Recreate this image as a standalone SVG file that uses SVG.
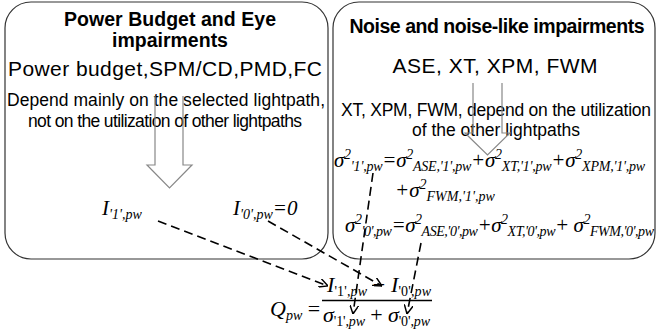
<svg xmlns="http://www.w3.org/2000/svg" width="657" height="334" viewBox="0 0 657 334">
<style>
.box{fill:none;stroke:#333;stroke-width:1.2}
.big{fill:none;stroke:#888;stroke-width:1.2}
.h{font-family:"Liberation Sans",Arial,sans-serif;font-weight:bold;font-size:19.5px;fill:#000;text-anchor:middle}
.l{font-family:"Liberation Sans",Arial,sans-serif;font-size:21px;fill:#000;text-anchor:middle}
.s{font-family:"Liberation Sans",Arial,sans-serif;font-size:17.5px;fill:#000;text-anchor:middle}
.m{font-family:"Liberation Serif","Times New Roman",serif;font-style:italic;font-size:21px;fill:#000}
.q{font-size:22px}
.r{font-style:normal}
.sb{font-size:14px}
.dash{fill:none;stroke:#000;stroke-width:1.6;stroke-dasharray:9,5}
</style>
<defs>
<marker id="ah" viewBox="0 0 10 10" refX="10" refY="5" markerWidth="9" markerHeight="9" markerUnits="userSpaceOnUse" orient="auto">
<path d="M0,0 L10,5 L0,10" fill="none" stroke="#000" stroke-width="1.6"/>
</marker>
</defs>
<g id="left-box">
<rect class="box" x="5" y="2" width="323" height="257" rx="26"/>
<text class="h" x="170" y="26" textLength="212">Power Budget and Eye</text>
<text class="h" x="170" y="47">impairments</text>
<text class="l" x="165" y="76" textLength="314">Power budget,SPM/CD,PMD,FC</text>
<text class="s" x="166" y="106" textLength="318">Depend mainly on the selected lightpath,</text>
<text class="s" x="165" y="127" textLength="274">not on the utilization of other lightpaths</text>
<path class="big" d="M155,96 V165 H147 L169.5,188 L192,165 H183 V96"/>
<text class="m" x="102" y="215">I<tspan class="sb" dy="4">'1',pw</tspan></text>
<text class="m" x="233" y="215">I<tspan class="sb" dy="4">'0',pw</tspan><tspan dy="-4">=0</tspan></text>
</g>
<g id="right-box">
<rect class="box" x="333" y="2" width="322" height="257" rx="26"/>
<text class="h" x="497" y="33" textLength="295">Noise and noise-like impairments</text>
<text class="l" x="495" y="73" textLength="205">ASE, XT, XPM, FWM</text>
<text class="s" x="496" y="116" textLength="310">XT, XPM, FWM, depend on the utilization</text>
<text class="s" x="496" y="136" textLength="168">of the other lightpaths</text>
<path class="big" d="M473,83 V133 H465 L487.5,155 L510,133 H502 V83"/>
<text class="m" x="334" y="167" textLength="311">σ<tspan class="sb" dy="-8">2</tspan><tspan class="sb" dy="12">'1',pw</tspan><tspan dy="-4">=σ</tspan><tspan class="sb" dy="-8">2</tspan><tspan class="sb" dy="12">ASE,'1',pw</tspan><tspan dy="-4">+σ</tspan><tspan class="sb" dy="-8">2</tspan><tspan class="sb" dy="12">XT,'1',pw</tspan><tspan dy="-4">+σ</tspan><tspan class="sb" dy="-8">2</tspan><tspan class="sb" dy="12">XPM,'1',pw</tspan></text>
<text class="m" x="395" y="197">+σ<tspan class="sb" dy="-8">2</tspan><tspan class="sb" dy="12">FWM,'1',pw</tspan></text>
<text class="m" x="345" y="232" textLength="309">σ<tspan class="sb" dy="-8">2</tspan><tspan class="sb" dy="12">'0',pw</tspan><tspan dy="-4">=σ</tspan><tspan class="sb" dy="-8">2</tspan><tspan class="sb" dy="12">ASE,'0',pw</tspan><tspan dy="-4">+σ</tspan><tspan class="sb" dy="-8">2</tspan><tspan class="sb" dy="12">XT,'0',pw</tspan><tspan dy="-4">+ σ</tspan><tspan class="sb" dy="-8">2</tspan><tspan class="sb" dy="12">FWM,'0',pw</tspan></text>
</g>
<g id="q-formula">
<text class="m q" x="270" y="316">Q<tspan class="sb" dy="4">pw</tspan><tspan class="r" dy="-4"> =</tspan></text>
<line x1="322" y1="300.5" x2="432" y2="300.5" stroke="#000" stroke-width="1.3"/>
<text class="m q" x="327" y="292" textLength="104">I<tspan class="sb r" dy="4">'1',</tspan><tspan class="sb">pw</tspan><tspan class="r" dy="-4"> − </tspan>I<tspan class="sb r" dy="4">'0',</tspan><tspan class="sb">pw</tspan></text>
<text class="m q" x="323" y="322" textLength="107">σ<tspan class="sb r" dy="4">'1',</tspan><tspan class="sb">pw</tspan><tspan class="r" dy="-4"> + </tspan>σ<tspan class="sb r" dy="4">'0',</tspan><tspan class="sb">pw</tspan></text>
</g>
<g id="connectors">
<path class="dash" d="M158,221 L328,286" marker-end="url(#ah)"/>
<path class="dash" d="M268,221 L382,286" marker-end="url(#ah)"/>
<path class="dash" d="M373,173 L353,314" marker-end="url(#ah)"/>
<path class="dash" d="M421,243 L407,314" marker-end="url(#ah)"/>
</g>
</svg>
